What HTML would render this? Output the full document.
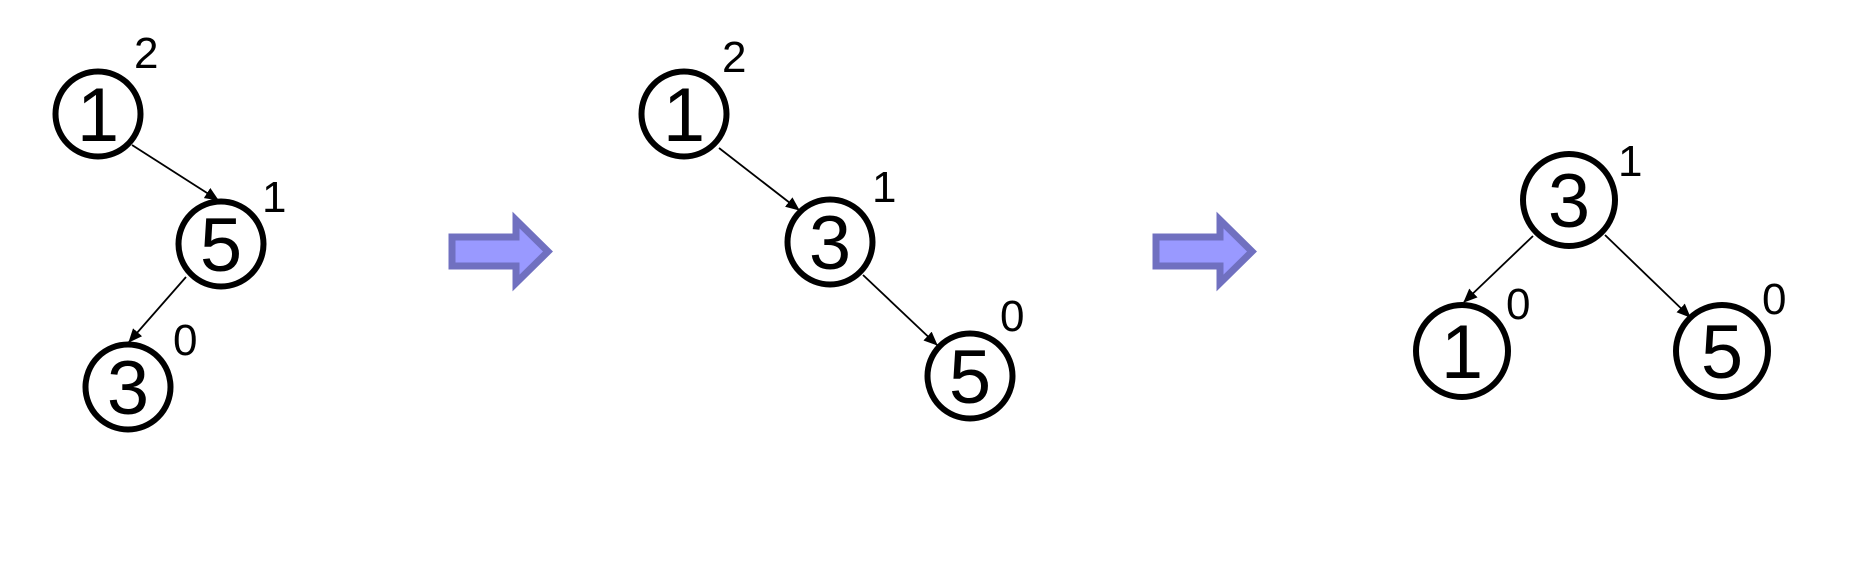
<!DOCTYPE html>
<html><head><meta charset="utf-8"><style>
html,body{margin:0;padding:0;background:#fff;}
svg{display:block;}
text{font-family:"Liberation Sans",Arial,sans-serif;fill:#000;}
</style></head><body>
<svg width="1860" height="585" viewBox="0 0 1860 585" xmlns="http://www.w3.org/2000/svg">
<defs>
<marker id="ah" markerWidth="14" markerHeight="12" refX="13" refY="6" orient="auto" markerUnits="userSpaceOnUse">
<path d="M0,0 L14,6 L0,12 Z" fill="#000"/>
</marker>
</defs>
<g fill="none" stroke="#000" stroke-width="1.8" marker-end="url(#ah)">
<line x1="132" y1="145" x2="218" y2="200"/>
<line x1="186" y1="277" x2="129" y2="342"/>
<line x1="719" y1="148" x2="799" y2="210"/>
<line x1="863" y1="275" x2="937" y2="345"/>
<line x1="1533" y1="236" x2="1464" y2="302"/>
<line x1="1605" y1="235" x2="1690" y2="317"/>
</g>
<g fill="#fff" stroke="#000" stroke-width="6">
<circle cx="98" cy="114" r="42.5"/>
<circle cx="221" cy="244" r="42.5"/>
<circle cx="128" cy="387" r="42.5"/>
<circle cx="684" cy="114" r="42.5"/>
<circle cx="830" cy="242" r="42.5"/>
<circle cx="970" cy="376" r="42.5"/>
<circle cx="1569" cy="200" r="46"/>
<circle cx="1462" cy="351" r="46"/>
<circle cx="1722" cy="351" r="46"/>
</g>
<g font-size="76" text-anchor="middle">
<text x="98" y="141">1</text>
<text x="221" y="271">5</text>
<text x="128" y="414">3</text>
<text x="684" y="141">1</text>
<text x="830" y="269">3</text>
<text x="970" y="403">5</text>
<text x="1569" y="227">3</text>
<text x="1462" y="378">1</text>
<text x="1722" y="378">5</text>
</g>
<g font-size="44">
<text x="134" y="68">2</text>
<text x="262" y="212">1</text>
<text x="173" y="355">0</text>
<text x="722" y="72">2</text>
<text x="872" y="202">1</text>
<text x="1000" y="331">0</text>
<text x="1618" y="176">1</text>
<text x="1506" y="319">0</text>
<text x="1762" y="314">0</text>
</g>
<g fill="#9999ff" stroke="#7070c0" stroke-width="7" stroke-linejoin="miter">
<path d="M452,237 L516,237 L516,220 L548,251.5 L516,283 L516,266 L452,266 Z"/>
<path d="M1156,237 L1220,237 L1220,220 L1252,251.5 L1220,283 L1220,266 L1156,266 Z"/>
</g>
</svg>
</body></html>
